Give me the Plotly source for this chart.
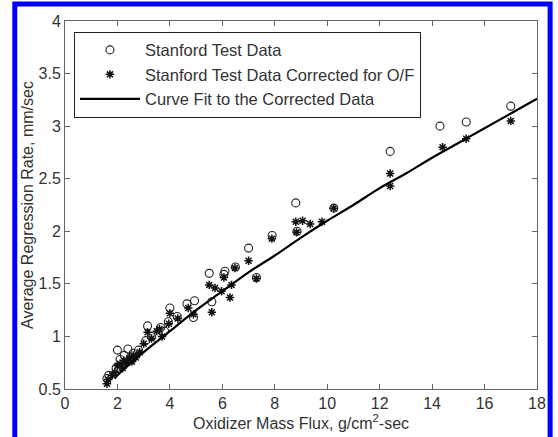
import plotly.graph_objects as go

# Stanford Test Data (open circles)
stanford_flux = [1.6, 1.67, 1.95, 2.0, 2.1, 2.26, 2.4, 2.5, 2.6, 2.8, 3.08, 3.15, 3.3, 3.65, 3.8,
                 3.94, 4.0, 4.28, 4.65, 4.9, 4.94, 5.5, 5.6, 6.06, 6.1, 6.5, 7.0, 7.3, 7.9, 8.8,
                 8.85, 10.25, 12.4, 14.3, 15.3, 17.0]
stanford_rate = [0.60, 0.63, 0.70, 0.87, 0.78, 0.82, 0.88, 0.80, 0.84, 0.87, 0.96, 1.10, 1.00, 1.085, 1.05,
                 1.14, 1.27, 1.19, 1.31, 1.18, 1.34, 1.60, 1.33, 1.59, 1.62, 1.66, 1.84, 1.56, 1.96, 2.27,
                 2.00, 2.22, 2.76, 3.00, 3.04, 3.19]

# Stanford Test Data Corrected for O/F (asterisks)
corr_flux = [1.6, 1.64, 1.8, 1.9, 2.0, 2.1, 2.2, 2.25, 2.35, 2.45, 2.55, 2.6, 2.7, 2.85, 3.0,
             3.15, 3.3, 3.5, 3.6, 3.7, 3.96, 4.0, 4.3, 4.7, 4.9, 5.5, 5.6, 5.72, 5.97, 6.06,
             6.29, 6.35, 6.48, 7.0, 7.3, 7.89, 8.8, 8.83, 9.06, 9.35, 9.8, 10.25, 12.4, 12.4,
             14.4, 15.3, 17.0]
corr_rate = [0.55, 0.59, 0.63, 0.66, 0.72, 0.74, 0.70, 0.77, 0.75, 0.79, 0.76, 0.82, 0.80, 0.85, 0.93,
             1.04, 0.98, 1.05, 1.07, 1.00, 1.12, 1.22, 1.17, 1.27, 1.21, 1.49, 1.23, 1.46, 1.43, 1.56,
             1.37, 1.49, 1.65, 1.72, 1.55, 1.93, 2.09, 1.99, 2.10, 2.07, 2.09, 2.22, 2.55, 2.43,
             2.80, 2.88, 3.05]

# Curve fit to the corrected data
fit_flux = [1.9, 2, 3, 4, 5, 6, 7, 8, 9, 10, 11, 12, 13, 14, 15, 16, 17, 18]
fit_rate = [0.60, 0.63, 0.85, 1.05, 1.25, 1.43, 1.61, 1.77, 1.94, 2.10, 2.25, 2.41, 2.55, 2.70,
            2.84, 2.98, 3.12, 3.26]

x_ticks = [0, 2, 4, 6, 8, 10, 12, 14, 16, 18]
y_ticks = [0.5, 1, 1.5, 2, 2.5, 3, 3.5, 4]

FONT = "Liberation Sans, Arial, Helvetica, sans-serif"
TXT = "#333333"

fig = go.Figure()
fig.add_trace(go.Scatter(
    x=stanford_flux, y=stanford_rate, mode="markers", name="Stanford Test Data",
    marker=dict(symbol="circle-open", size=8, color="#222222", line=dict(width=1.1)),
))
fig.add_trace(go.Scatter(
    x=corr_flux, y=corr_rate, mode="markers", name="Stanford Test Data Corrected for O/F",
    marker=dict(symbol="asterisk-open", size=7, color="#111111", line=dict(width=1.5)),
))
fig.add_trace(go.Scatter(
    x=fit_flux, y=fit_rate, mode="lines", name="Curve Fit to the Corrected Data",
    line=dict(color="black", width=2.2, shape="spline"),
))

axis_common = dict(
    showgrid=False, zeroline=False, showline=True, linecolor="#666666", linewidth=1,
    mirror="ticks", ticks="inside", ticklen=5, tickcolor="#666666",
    tickfont=dict(family=FONT, size=16, color=TXT),
)
fig.update_xaxes(
    range=[0, 18], tickvals=x_ticks, ticktext=[str(v) for v in x_ticks],
    title=dict(text="Oxidizer Mass Flux, g/cm<sup>2</sup>-sec",
               font=dict(family=FONT, size=16, color=TXT), standoff=2),
    **axis_common,
)
fig.update_yaxes(
    range=[0.5, 4], tickvals=y_ticks, ticktext=["0.5", "1", "1.5", "2", "2.5", "3", "3.5", "4"],
    title=dict(text="Average Regression Rate, mm/sec",
               font=dict(family=FONT, size=16, color=TXT), standoff=0),
    **axis_common,
)

fig.update_layout(
    width=558, height=437,
    margin=dict(l=65, r=16, t=21, b=41),
    paper_bgcolor="white", plot_bgcolor="white",
    font=dict(family=FONT, color=TXT),
    showlegend=True,
    legend=dict(
        x=0.019, y=0.971, xanchor="left", yanchor="top",
        bgcolor="white", bordercolor="#222222", borderwidth=1,
        font=dict(family=FONT, size=16.5, color=TXT),
        tracegroupgap=0, itemwidth=60,
    ),
    shapes=[dict(
        type="rect", xref="paper", yref="paper",
        x0=-0.1064, x1=1.0278, y0=-0.4, y1=1.046,
        line=dict(color="#0000ff", width=5), fillcolor="rgba(0,0,0,0)", layer="above",
    )],
)

fig.write_html("out.html")
